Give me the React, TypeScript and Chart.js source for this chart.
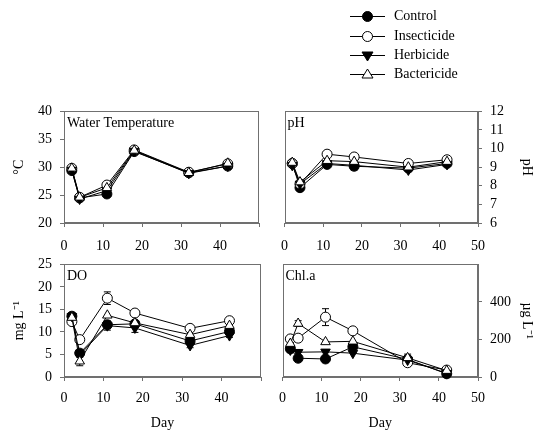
import React, { useEffect, useRef } from "react";
import { Chart, registerables } from "chart.js";
Chart.register(...registerables);

const days = [2, 4, 11, 18, 32, 42];
const seriesNames = ["Control", "Insecticide", "Herbicide", "Bactericide"];

const tempControl = [29.4, 24.5, 25.2, 32.8, 29.0, 30.2];
const tempInsecticide = [29.8, 24.6, 26.8, 33.1, 29.1, 30.6];
const tempHerbicide = [29.5, 24.3, 25.8, 32.9, 28.9, 30.2];
const tempBactericide = [29.8, 24.6, 26.3, 33.0, 29.0, 30.7];

const phControl = [9.2, 7.9, 9.15, 9.05, 8.95, 9.2];
const phInsecticide = [9.2, 8.1, 9.7, 9.55, 9.2, 9.4];
const phHerbicide = [9.1, 8.1, 9.2, 9.1, 8.85, 9.15];
const phBactericide = [9.25, 8.2, 9.35, 9.3, 9.0, 9.3];
const phControlErr = [0, 0.15, 0, 0.2, 0, 0];

const doControl = [13.5, 5.3, 11.6, 11.8, 8.0, 10.1];
const doInsecticide = [12.3, 8.3, 17.5, 14.2, 10.8, 12.5];
const doHerbicide = [13.5, 4.9, 11.4, 10.9, 7.0, 9.2];
const doBactericide = [13.2, 3.5, 13.7, 12.0, 9.4, 11.4];
const doControlErr = [0.8, 0.6, 0.8, 0.5, 0.5, 0.4];
const doInsecticideErr = [0, 0, 1.4, 0, 0, 0];
const doHerbicideErr = [0.6, 0.5, 1.0, 1.0, 0.5, 0.4];
const doBactericideErr = [0.5, 1.0, 0, 0, 0, 0];

const chlControl = [150, 100, 96, 161, 94, 17];
const chlInsecticide = [203, 207, 319, 246, 76, 37];
const chlHerbicide = [144, 132, 134, 127, 90, 20];
const chlBactericide = [178, 285, 187, 190, 102, 34];
const chlInsecticideErr = [0, 0, 45, 0, 0, 0];
const chlBactericideErr = [0, 15, 0, 0, 20, 0];

const FONT = '"Liberation Serif", "Times New Roman", serif';
const AXIS_COLOR = "#707070";

const styles = [
  { pointStyle: "circle", fill: "#000", rotation: 0, radius: 5 },
  { pointStyle: "circle", fill: "#fff", rotation: 0, radius: 5 },
  { pointStyle: "triangle", fill: "#000", rotation: 180, radius: 5.5 },
  { pointStyle: "triangle", fill: "#fff", rotation: 0, radius: 5.5 },
];

function makeDatasets(series: number[][], errors: (number[] | null)[]) {
  return series.map((vals, si) => ({
    label: seriesNames[si],
    data: days.map((d, i) => ({ x: d, y: vals[i] })),
    errors: errors[si],
    borderColor: "#000",
    borderWidth: 1,
    pointStyle: styles[si].pointStyle,
    pointRotation: styles[si].rotation,
    pointRadius: styles[si].radius,
    pointBackgroundColor: styles[si].fill,
    pointBorderColor: "#000",
    pointBorderWidth: 1,
    clip: false,
    order: 3 - si,
  }));
}

const errorBarPlugin = {
  id: "errorBars",
  beforeDatasetsDraw(chart: any) {
    const { ctx } = chart;
    const xs = chart.scales.x;
    const ys = chart.scales.y;
    ctx.save();
    ctx.strokeStyle = "#000";
    ctx.lineWidth = 1;
    chart.data.datasets.forEach((ds: any) => {
      const errs = ds.errors;
      if (!errs) return;
      ds.data.forEach((p: any, i: number) => {
        const e = errs[i];
        if (!e) return;
        const px = xs.getPixelForValue(p.x);
        const y1 = ys.getPixelForValue(p.y + e);
        const y2 = ys.getPixelForValue(p.y - e);
        ctx.beginPath();
        ctx.moveTo(px, y1);
        ctx.lineTo(px, y2);
        ctx.moveTo(px - 3.5, y1);
        ctx.lineTo(px + 3.5, y1);
        ctx.moveTo(px - 3.5, y2);
        ctx.lineTo(px + 3.5, y2);
        ctx.stroke();
      });
    });
    ctx.restore();
  },
};

const panelPlugin = {
  id: "panelBox",
  beforeDatasetsDraw(chart: any) {
    const { ctx, chartArea } = chart;
    ctx.save();
    ctx.strokeStyle = AXIS_COLOR;
    ctx.lineWidth = 1;
    const l = Math.round(chartArea.left) + 0.5;
    const t = Math.round(chartArea.top) + 0.5;
    const r = Math.round(chartArea.right) - 0.5;
    const b = Math.round(chartArea.bottom) - 0.5;
    ctx.strokeRect(l, t, r - l, b - t);
    ctx.restore();
  },
  afterDraw(chart: any, _args: any, opts: any) {
    const { ctx, chartArea } = chart;
    ctx.save();
    ctx.fillStyle = "#000";
    ctx.font = "14px " + FONT;
    ctx.textBaseline = "alphabetic";
    ctx.textAlign = "left";
    ctx.fillText(opts.label || "", chartArea.left + 3, chartArea.top + 16);
    ctx.restore();
  },
};

type PanelProps = {
  left: number;
  top: number;
  width: number;
  height: number;
  xAxisHeight: number;
  label: string;
  side: "left" | "right";
  series: number[][];
  errors: (number[] | null)[];
  yMin: number;
  yMax: number;
  yStep: number;
  yShowMax?: number;
  yTitle: string;
  xTitle?: string;
  hide50?: boolean;
};

function Panel(p: PanelProps) {
  const ref = useRef<HTMLCanvasElement | null>(null);
  useEffect(() => {
    if (!ref.current) return;
    const chart = new Chart(ref.current, {
      type: "line",
      data: { datasets: makeDatasets(p.series, p.errors) as any },
      options: {
        animation: false,
        responsive: false,
        maintainAspectRatio: false,
        layout: {
          padding:
            p.side === "left"
              ? { top: 12, right: 9, left: 0, bottom: 0 }
              : { top: 12, right: 0, left: 10, bottom: 0 },
        },
        plugins: {
          legend: { display: false },
          tooltip: { enabled: false },
          panelBox: { label: p.label },
        } as any,
        scales: {
          x: {
            type: "linear",
            min: 0,
            max: 50,
            afterFit: (s: any) => {
              s.height = p.xAxisHeight;
            },
            ticks: {
              stepSize: 10,
              autoSkip: false,
              maxRotation: 0,
              color: "#000",
              padding: p.xTitle ? 9 : 11,
              font: { family: FONT, size: 14 },
              callback: (v: any) => (p.hide50 && v === 50 ? "" : String(v)),
            },
            grid: {
              drawOnChartArea: false,
              drawTicks: true,
              tickLength: 4,
              color: AXIS_COLOR,
            },
            border: { display: true, color: AXIS_COLOR },
            title: p.xTitle
              ? {
                  display: true,
                  text: p.xTitle,
                  color: "#000",
                  font: { family: FONT, size: 14 },
                  padding: { top: 0, bottom: 0 },
                }
              : { display: false },
          },
          y: {
            type: "linear",
            position: p.side,
            min: p.yMin,
            max: p.yMax,
            afterFit: (s: any) => {
              s.width = 64;
            },
            afterBuildTicks: (axis: any) => {
              if (p.yShowMax !== undefined) {
                axis.ticks = axis.ticks.filter((t: any) => t.value <= (p.yShowMax as number));
              }
            },
            ticks: {
              stepSize: p.yStep,
              autoSkip: false,
              color: "#000",
              padding: 8,
              font: { family: FONT, size: 14 },
            },
            grid: {
              drawOnChartArea: false,
              drawTicks: true,
              tickLength: 4,
              color: AXIS_COLOR,
            },
            border: { display: true, color: AXIS_COLOR },
            title: {
              display: true,
              text: p.yTitle,
              color: "#000",
              font: { family: FONT, size: 14 },
              padding: { top: p.side === "left" ? 11 : 7, bottom: 0 },
            },
          },
        },
      },
      plugins: [errorBarPlugin, panelPlugin],
    });
    return () => chart.destroy();
  }, []);
  return (
    <canvas
      ref={ref}
      width={p.width}
      height={p.height}
      style={{
        position: "absolute",
        left: p.left,
        top: p.top,
        width: p.width,
        height: p.height,
      }}
    />
  );
}

function Legend() {
  const ref = useRef<HTMLCanvasElement | null>(null);
  useEffect(() => {
    const c = ref.current;
    if (!c) return;
    const ctx = c.getContext("2d");
    if (!ctx) return;
    const rowCenters = [16, 36, 55, 74];
    ctx.clearRect(0, 0, c.width, c.height);
    ctx.lineWidth = 1;
    ctx.strokeStyle = "#000";
    seriesNames.forEach((name, i) => {
      const cy = rowCenters[i] + 0.5;
      const cx = 17.5;
      ctx.beginPath();
      ctx.moveTo(0, cy);
      ctx.lineTo(35, cy);
      ctx.stroke();
      const s = styles[i];
      ctx.beginPath();
      if (s.pointStyle === "circle") {
        ctx.arc(cx, cy, 5, 0, Math.PI * 2);
      } else if (s.rotation === 180) {
        ctx.moveTo(cx - 5.5, cy - 3.5);
        ctx.lineTo(cx + 5.5, cy - 3.5);
        ctx.lineTo(cx, cy + 5.5);
        ctx.closePath();
      } else {
        ctx.moveTo(cx - 5.5, cy + 3.5);
        ctx.lineTo(cx + 5.5, cy + 3.5);
        ctx.lineTo(cx, cy - 5.5);
        ctx.closePath();
      }
      ctx.fillStyle = s.fill;
      ctx.fill();
      ctx.stroke();
      ctx.fillStyle = "#000";
      ctx.font = "14px " + FONT;
      ctx.textBaseline = "middle";
      ctx.textAlign = "left";
      ctx.fillText(name, 44, rowCenters[i]);
    });
  }, []);
  return (
    <canvas
      ref={ref}
      width={160}
      height={90}
      style={{ position: "absolute", left: 350, top: 0, width: 160, height: 90 }}
    />
  );
}

export default function App() {
  return (
    <div
      style={{
        position: "absolute",
        left: 0,
        top: 0,
        width: 542,
        height: 432,
        background: "#fff",
        overflow: "hidden",
      }}
    >
      <Legend />
      <Panel
        left={0}
        top={95}
        width={270}
        height={165}
        xAxisHeight={37}
        label="Water Temperature"
        side="left"
        series={[tempControl, tempInsecticide, tempHerbicide, tempBactericide]}
        errors={[null, null, null, null]}
        yMin={20}
        yMax={40}
        yStep={5}
        yTitle="°C"
        hide50
      />
      <Panel
        left={270}
        top={95}
        width={272}
        height={165}
        xAxisHeight={37}
        label="pH"
        side="right"
        series={[phControl, phInsecticide, phHerbicide, phBactericide]}
        errors={[phControlErr, null, null, null]}
        yMin={6}
        yMax={12}
        yStep={1}
        yTitle="pH"
      />
      <Panel
        left={0}
        top={248}
        width={270}
        height={184}
        xAxisHeight={55}
        label="DO"
        side="left"
        series={[doControl, doInsecticide, doHerbicide, doBactericide]}
        errors={[doControlErr, doInsecticideErr, doHerbicideErr, doBactericideErr]}
        yMin={0}
        yMax={25}
        yStep={5}
        yTitle="mg L⁻¹"
        xTitle="Day"
        hide50
      />
      <Panel
        left={270}
        top={248}
        width={272}
        height={184}
        xAxisHeight={55}
        label="Chl.a"
        side="right"
        series={[chlControl, chlInsecticide, chlHerbicide, chlBactericide]}
        errors={[null, chlInsecticideErr, null, chlBactericideErr]}
        yMin={0}
        yMax={600}
        yStep={200}
        yShowMax={400}
        yTitle="µg L⁻¹"
        xTitle="Day"
      />
    </div>
  );
}
